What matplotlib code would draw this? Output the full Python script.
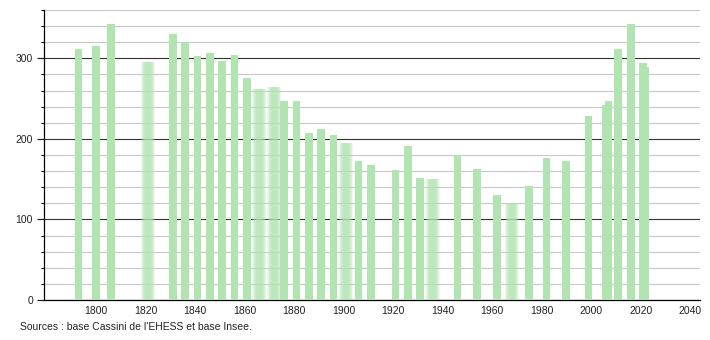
import matplotlib.pyplot as plt
from matplotlib.ticker import MultipleLocator

plt.rcParams['font.family'] = ['Liberation Sans', 'DejaVu Sans']

# Population par année de recensement
annees = [1793, 1800, 1806, 1821, 1831, 1836, 1841, 1846, 1851, 1856,
          1861, 1866, 1872, 1876, 1881, 1886, 1891, 1896, 1901, 1906,
          1911, 1921, 1926, 1931, 1936, 1946, 1954, 1962, 1968, 1975,
          1982, 1990, 1999, 2006, 2007, 2011, 2016, 2021, 2022]
population = [311, 315, 343, 295, 330, 320, 303, 307, 297, 304,
              275, 262, 265, 247, 247, 207, 212, 205, 195, 173,
              167, 162, 191, 151, 150, 180, 163, 130, 121, 142,
              176, 172, 228, 242, 247, 312, 343, 294, 289]
# années dont la barre est floutée dans l'original
flous = [1821, 1866, 1872, 1901, 1936, 1968]

source = "Sources : base Cassini de l'EHESS et base Insee."

vert = "#b1e4b1"
largeur = 3.1

fig = plt.figure(figsize=(7.1, 3.4), dpi=100)
ax = fig.add_axes([44/710, 40/340, 656/710, 290/340])

for a, p in zip(annees, population):
    if a in flous:
        # empilement de barres semi-transparentes pour imiter le flou
        for k in range(8):
            w = largeur * (1.8 - k * 0.17)
            ax.bar(a, p, width=w, color=vert, alpha=0.2, linewidth=0, zorder=3)
    else:
        ax.bar(a, p, width=largeur, color=vert, linewidth=0, zorder=3)

ax.set_xlim(1779, 2044)
ax.set_ylim(0, 360)
ax.set_xticks(range(1800, 2041, 20))
ax.yaxis.set_major_locator(MultipleLocator(100))
ax.yaxis.set_minor_locator(MultipleLocator(20))

ax.grid(axis="y", which="minor", color="#c8c8c8", linewidth=0.8, zorder=1)
ax.grid(axis="y", which="major", color="#333333", linewidth=0.8, zorder=2)

for s in ["top", "right"]:
    ax.spines[s].set_visible(False)
ax.spines["left"].set_linewidth(0.9)
ax.spines["bottom"].set_linewidth(0.9)

ax.tick_params(axis="x", length=0, labelsize=7.5, pad=4, colors="#222222")
ax.tick_params(axis="y", which="major", length=5, width=0.9, labelsize=7.5, pad=3, colors="#222222")
ax.tick_params(axis="y", which="minor", length=2, width=0.8)

fig.text(20/710, 1 - 327/340, source, fontsize=7.5, va="center", ha="left", color="#222222")

fig.savefig("out.png", dpi=100)
